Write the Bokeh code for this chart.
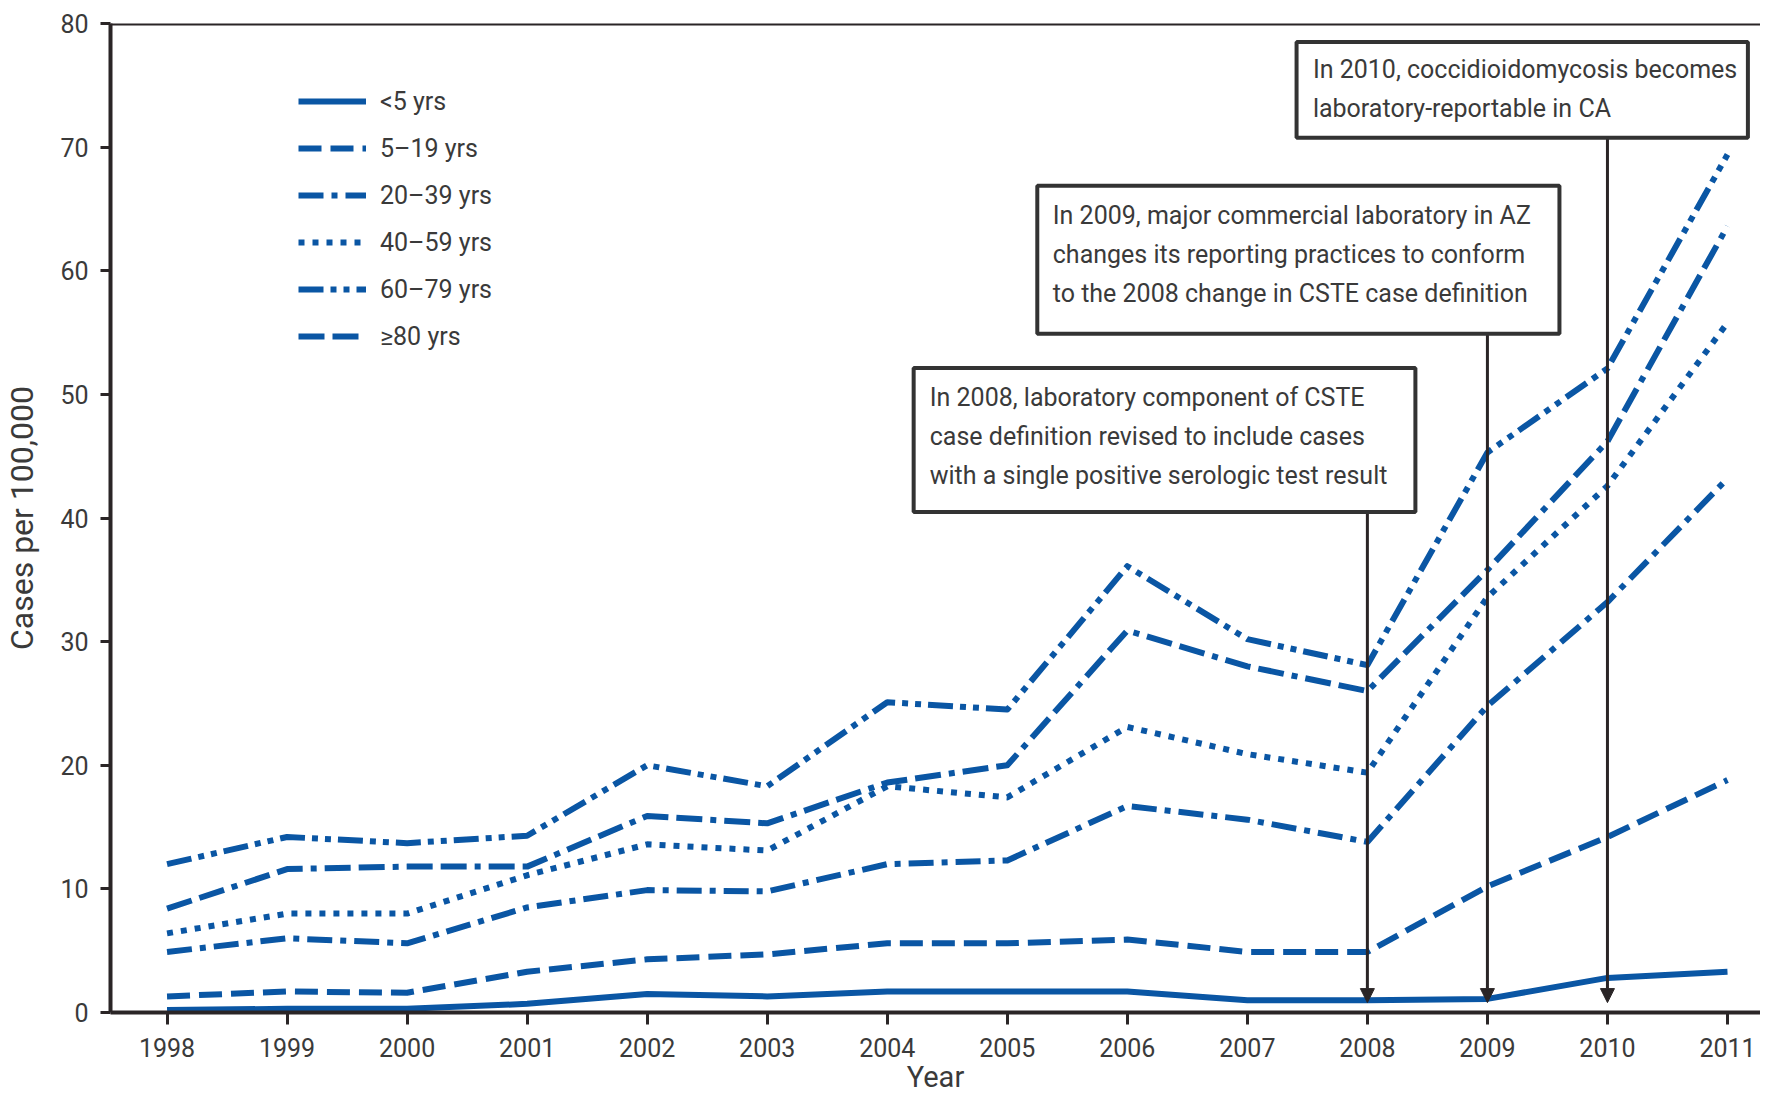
from bokeh.plotting import figure
from bokeh.models import (Range1d, FixedTicker, Legend, LegendItem, BoxAnnotation,
                          Label, Arrow, NormalHead, Span)
from bokeh.embed import file_html
from bokeh.resources import INLINE

# ---------------- data ----------------
years = list(range(1998, 2012))
age_groups = ["<5 yrs", "5–19 yrs", "20–39 yrs", "40–59 yrs", "60–79 yrs", "≥80 yrs"]
under5 = [0.2, 0.3, 0.3, 0.7, 1.5, 1.3, 1.7, 1.7, 1.7, 1.0, 1.0, 1.1, 2.8, 3.3]
age5_19 = [1.3, 1.7, 1.6, 3.3, 4.3, 4.7, 5.6, 5.6, 5.9, 4.9, 4.9, 10.2, 14.2, 18.8]
age20_39 = [4.9, 6.0, 5.6, 8.5, 9.9, 9.8, 12.0, 12.3, 16.7, 15.6, 13.8, 24.8, 33.2, 43.2]
age40_59 = [6.4, 8.0, 8.0, 11.1, 13.6, 13.1, 18.3, 17.4, 23.1, 20.9, 19.4, 33.6, 42.6, 55.8]
age60_79 = [12.0, 14.2, 13.7, 14.3, 20.0, 18.3, 25.1, 24.5, 36.1, 30.2, 28.1, 45.3, 52.1, 69.4]
age80plus = [8.4, 11.6, 11.8, 11.8, 15.9, 15.3, 18.6, 20.0, 30.9, 28.0, 26.0, 35.8, 46.2, 63.6]
series = [under5, age5_19, age20_39, age40_59, age60_79, age80plus]

y_ticks = [0, 10, 20, 30, 40, 50, 60, 70, 80]

event_years = [2008, 2009, 2010]
event_texts = [
    ["In 2008, laboratory component of CSTE",
     "case definition revised to include cases",
     "with a single positive serologic test result"],
    ["In 2009, major commercial laboratory in AZ",
     "changes its reporting practices to conform",
     "to the 2008 change in CSTE case definition"],
    ["In 2010, coccidioidomycosis becomes",
     "laboratory-reportable in CA"],
]

# ---------------- style ----------------
FONT = "Roboto"
BLUE = "#0a56a4"
DARK = "#2a2526"
TXT = "#3a3a3a"
dashes = ["solid", "23 9", "25 8 6 8", "6 8", "25 7 6 7 6 7", "26 8 26 8 6 8"]

p = figure(width=1760, height=1100, output_backend="svg", toolbar_location=None,
           x_range=Range1d(1997.529, 2011.275), y_range=Range1d(0, 80),
           min_border_left=110, min_border_right=0, min_border_top=23,
           min_border_bottom=88)
p.background_fill_color = "white"
p.border_fill_color = "white"
p.outline_line_color = None
p.xgrid.visible = False
p.ygrid.visible = False

renderers = []
for s, d in zip(series, dashes):
    r = p.line(years, s, line_color=BLUE, line_width=6, line_dash=d, line_join="round")
    renderers.append(r)

legend = Legend(items=[LegendItem(label=l, renderers=[r]) for l, r in zip(age_groups, renderers)],
                location=(188, 658), glyph_width=68, glyph_height=36, label_height=36,
                spacing=11, padding=0, margin=0, label_standoff=14,
                label_text_font=FONT, label_text_font_size="25px", label_text_color=TXT,
                background_fill_alpha=0, border_line_alpha=0)
p.add_layout(legend)

# axes
for ax in (p.xaxis[0], p.yaxis[0]):
    ax.axis_line_color = DARK
    ax.axis_line_width = 4
    ax.major_tick_line_color = DARK
    ax.major_tick_line_width = 3
    ax.major_tick_in = 0
    ax.minor_tick_line_color = None
    ax.major_label_text_font = FONT
    ax.major_label_text_font_size = "25px"
    ax.major_label_text_color = TXT
    ax.axis_label_text_font = FONT
    ax.axis_label_text_color = TXT
    ax.axis_label_text_font_style = "normal"

p.xaxis.ticker = FixedTicker(ticks=years)
p.xaxis.major_tick_out = 12
p.xaxis.major_label_standoff = 13
p.xaxis.axis_label = "Year"
p.xaxis.axis_label_text_font_size = "29px"
p.xaxis.axis_label_standoff = 0

p.yaxis.ticker = FixedTicker(ticks=y_ticks)
p.yaxis.major_tick_out = 10
p.yaxis.major_label_standoff = 12
p.yaxis.axis_label = "Cases per 100,000"
p.yaxis.axis_label_text_font_size = "32px"
p.yaxis.axis_label_standoff = 16

p.add_layout(Span(location=80, dimension="width", line_color=DARK, line_width=4))

# annotation boxes (data units)
boxes = [
    dict(left=2004.22, right=2008.40, top=52.14, bottom=40.49),
    dict(left=2005.25, right=2009.60, top=66.87, bottom=54.90),
    dict(left=2007.41, right=2011.17, top=78.50, bottom=70.75),
]
text_x = [2004.354, 2005.379, 2007.546]
text_y0 = [49.75, 64.5, 76.25]
line_step = 3.15

for b, yr, lines, tx, ty in zip(boxes, event_years, event_texts, text_x, text_y0):
    p.add_layout(Arrow(end=NormalHead(size=14, fill_color=DARK, line_color=DARK),
                       x_start=yr, y_start=b["bottom"], x_end=yr, y_end=0.8,
                       line_color=DARK, line_width=3))
    p.add_layout(BoxAnnotation(left=b["left"], right=b["right"], top=b["top"], bottom=b["bottom"],
                               fill_color="white", fill_alpha=1.0,
                               line_color="#333333", line_width=4, line_alpha=1.0))
    for i, t in enumerate(lines):
        p.add_layout(Label(x=tx, y=ty - i * line_step, text=t, text_font=FONT,
                           text_font_size="25px", text_color=TXT, text_baseline="middle",
                           text_align="left"))

open("out.html", "w").write(file_html(p, INLINE))
